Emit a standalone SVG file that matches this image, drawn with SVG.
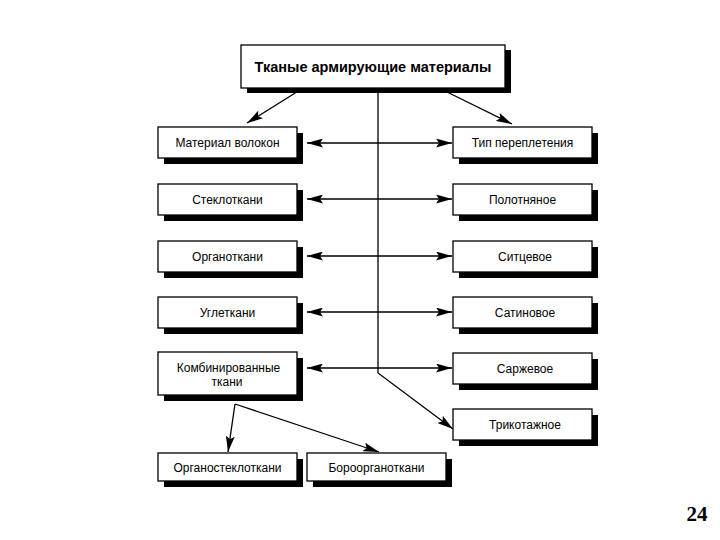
<svg xmlns="http://www.w3.org/2000/svg" width="720" height="540" viewBox="0 0 720 540">
<defs>
<marker id="ah" viewBox="0 0 16 9" refX="16" refY="4.5" markerWidth="16" markerHeight="9" markerUnits="userSpaceOnUse" orient="auto-start-reverse">
<path d="M0,0 L16,4.5 L0,9 L3,4.5 Z" fill="#000"/>
</marker>
<style>
.sh{fill:#000}
.bx{fill:#fff;stroke:#000;stroke-width:1.3}
.t{font-family:"Liberation Sans",Arial,sans-serif;font-size:12px;fill:#000;text-anchor:middle}
.tt{font-family:"Liberation Sans",Arial,sans-serif;font-size:14.5px;font-weight:bold;fill:#000;text-anchor:middle}
.c{stroke:#000;stroke-width:1.3;fill:none}
</style>
</defs>
<rect width="720" height="540" fill="#fff"/>
<g id="connectors">
<polyline class="c" points="378,89 378,373 453,429" marker-end="url(#ah)"/>
<line class="c" x1="300" y1="90" x2="247" y2="123" marker-end="url(#ah)"/>
<line class="c" x1="445" y1="91" x2="512" y2="124" marker-end="url(#ah)"/>
<line class="c" x1="307" y1="143" x2="452" y2="143" marker-start="url(#ah)" marker-end="url(#ah)"/>
<line class="c" x1="307" y1="199" x2="452" y2="199" marker-start="url(#ah)" marker-end="url(#ah)"/>
<line class="c" x1="307" y1="256" x2="452" y2="256" marker-start="url(#ah)" marker-end="url(#ah)"/>
<line class="c" x1="307" y1="312" x2="452" y2="312" marker-start="url(#ah)" marker-end="url(#ah)"/>
<line class="c" x1="307" y1="368" x2="452" y2="368" marker-start="url(#ah)" marker-end="url(#ah)"/>
<line class="c" x1="235" y1="404" x2="228" y2="452" marker-end="url(#ah)"/>
<line class="c" x1="235" y1="404" x2="379" y2="452" marker-end="url(#ah)"/>
</g>
<g id="n-top">
<rect class="sh" x="247" y="50" width="264" height="43"/>
<rect class="bx" x="241" y="45" width="264" height="43"/>
<text class="tt" x="373" y="72">Тканые армирующие материалы</text>
</g>
<g id="n-material">
<rect class="sh" x="164" y="133" width="139" height="31"/>
<rect class="bx" x="158" y="127" width="139" height="31"/>
<text class="t" x="227.5" y="147">Материал волокон</text>
</g>
<g id="n-steklo">
<rect class="sh" x="164" y="190" width="139" height="31"/>
<rect class="bx" x="158" y="184" width="139" height="31"/>
<text class="t" x="227.5" y="204">Стеклоткани</text>
</g>
<g id="n-organo">
<rect class="sh" x="164" y="247" width="139" height="31"/>
<rect class="bx" x="158" y="241" width="139" height="31"/>
<text class="t" x="227.5" y="261">Органоткани</text>
</g>
<g id="n-ugle">
<rect class="sh" x="164" y="303" width="139" height="31"/>
<rect class="bx" x="158" y="297" width="139" height="31"/>
<text class="t" x="227.5" y="317">Углеткани</text>
</g>
<g id="n-komb">
<rect class="sh" x="164" y="358" width="139" height="43"/>
<rect class="bx" x="158" y="352" width="139" height="43"/>
<text class="t" x="228.5" y="372">Комбинированные</text>
<text class="t" x="227" y="386">ткани</text>
</g>
<g id="n-tip">
<rect class="sh" x="459" y="133" width="139" height="31"/>
<rect class="bx" x="453" y="127" width="139" height="31"/>
<text class="t" x="522.5" y="147">Тип переплетения</text>
</g>
<g id="n-polot">
<rect class="sh" x="459" y="190" width="139" height="31"/>
<rect class="bx" x="453" y="184" width="139" height="31"/>
<text class="t" x="522.5" y="204">Полотняное</text>
</g>
<g id="n-sitc">
<rect class="sh" x="459" y="247" width="139" height="31"/>
<rect class="bx" x="453" y="241" width="139" height="31"/>
<text class="t" x="525" y="261">Ситцевое</text>
</g>
<g id="n-satin">
<rect class="sh" x="459" y="303" width="139" height="31"/>
<rect class="bx" x="453" y="297" width="139" height="31"/>
<text class="t" x="525" y="317">Сатиновое</text>
</g>
<g id="n-sarzh">
<rect class="sh" x="459" y="359" width="139" height="31"/>
<rect class="bx" x="453" y="353" width="139" height="31"/>
<text class="t" x="525" y="373">Саржевое</text>
</g>
<g id="n-trikot">
<rect class="sh" x="459" y="415" width="139" height="31"/>
<rect class="bx" x="453" y="409" width="139" height="31"/>
<text class="t" x="525" y="429">Трикотажное</text>
</g>
<g id="n-organosteklo">
<rect class="sh" x="164" y="459" width="139" height="28"/>
<rect class="bx" x="158" y="453" width="139" height="28"/>
<text class="t" x="227.5" y="471.5">Органостеклоткани</text>
</g>
<g id="n-boro">
<rect class="sh" x="313" y="459" width="139" height="28"/>
<rect class="bx" x="307" y="453" width="139" height="28"/>
<text class="t" x="376.5" y="471.5">Бороорганоткани</text>
</g>
<text x="697" y="521" font-family="'Liberation Serif','Times New Roman',serif" font-size="21" font-weight="bold" text-anchor="middle">24</text>
</svg>
